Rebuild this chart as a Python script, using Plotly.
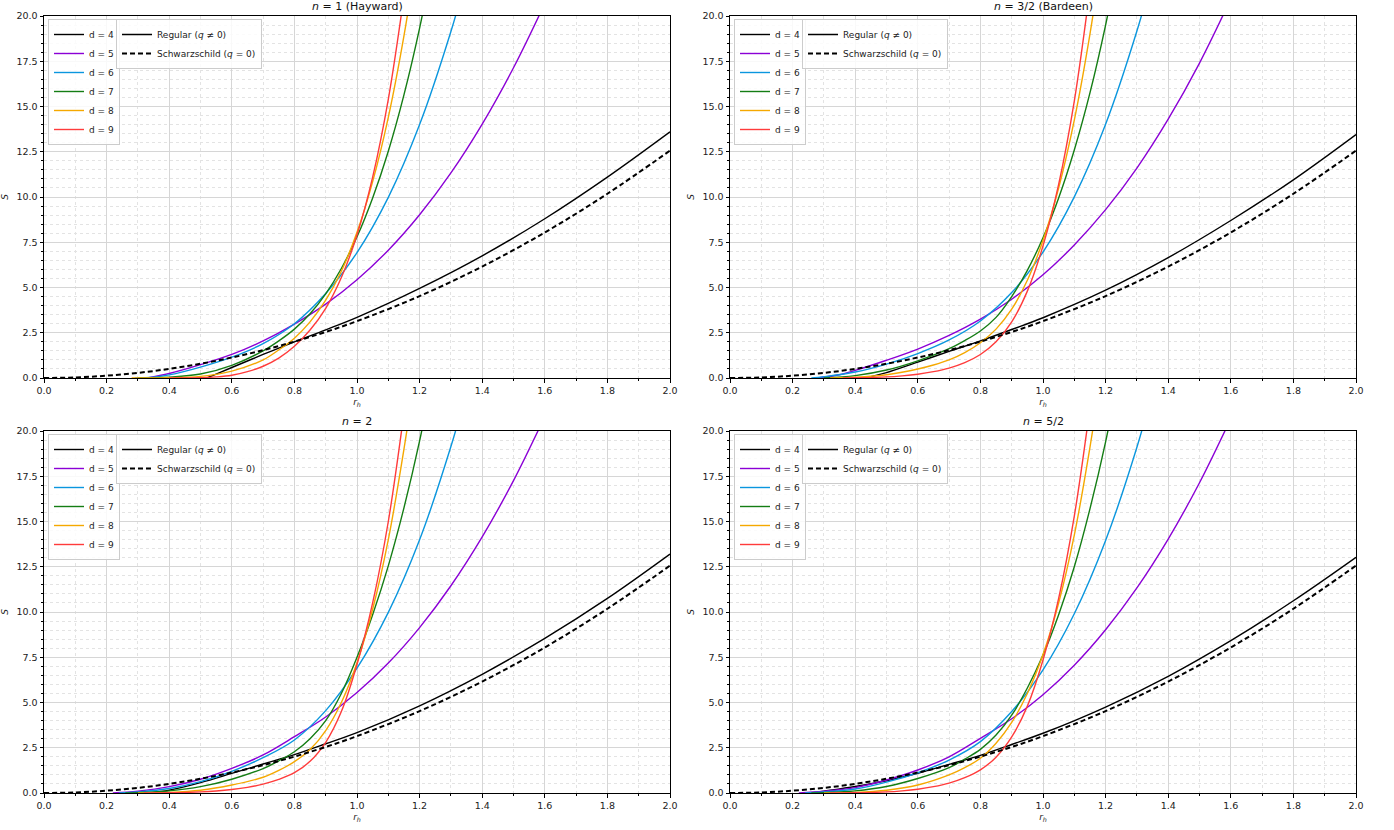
import plotly.graph_objects as go

# ---------------- data ----------------
D_LABELS = ["d = 4", "d = 5", "d = 6", "d = 7", "d = 8", "d = 9"]
PANEL_TITLES = ["<i>n</i> = 1 (Hayward)", "<i>n</i> = 3/2 (Bardeen)", "<i>n</i> = 2", "<i>n</i> = 5/2"]

# Schwarzschild d = 4 (dashed)
R_SCH = [0.0, 0.1, 0.2, 0.3, 0.4, 0.5, 0.6, 0.7, 0.8, 0.9, 1.0, 1.2, 1.4, 1.6, 1.8, 2.0]
S_SCH = [0.0, 0.031, 0.126, 0.283, 0.503, 0.785, 1.131, 1.539, 2.011, 2.545, 3.142,
         4.524, 6.158, 8.042, 10.179, 12.566]

# Panel 1: n = 1 (Hayward)
R1_D4 = [0.52, 0.55, 0.6, 0.7, 0.8, 0.9, 1.0, 1.2, 1.4, 1.6, 1.8, 2.0]
S1_D4 = [0.0, 0.22, 0.58, 1.3, 2.0, 2.66, 3.35, 4.95, 6.75, 8.8, 11.1, 13.6]
R1_D5 = [0.33, 0.4, 0.5, 0.6, 0.7, 0.8, 0.9, 1.0, 1.1, 1.2, 1.3, 1.4, 1.5, 1.6]
S1_D5 = [0.0, 0.25, 0.74, 1.3, 2.05, 2.98, 4.08, 5.43, 7.06, 9.02, 11.33, 14.03, 17.14, 20.69]
R1_D6 = [0.29, 0.35, 0.4, 0.5, 0.6, 0.7, 0.8, 0.9, 1.0, 1.1, 1.2, 1.3, 1.35]
S1_D6 = [0.0, 0.05, 0.17, 0.6, 1.15, 1.9, 3.0, 4.67, 6.93, 9.98, 14.0, 19.14, 22.2]
R1_D7 = [0.3, 0.4, 0.5, 0.6, 0.7, 0.75, 0.8, 0.85, 0.9, 0.95, 1.0, 1.05, 1.1, 1.15, 1.2, 1.25]
S1_D7 = [0.0, 0.05, 0.22, 0.7, 1.5, 2.05, 2.7, 3.55, 4.65, 6.05, 7.8, 9.95, 12.53, 15.64, 19.33, 23.7]
R1_D8 = [0.28, 0.4, 0.5, 0.6, 0.7, 0.75, 0.8, 0.85, 0.9, 0.95, 1.0, 1.05, 1.1, 1.15, 1.2]
S1_D8 = [0.0, 0.01, 0.09, 0.38, 1.0, 1.55, 2.2, 3.1, 4.3, 5.9, 8.05, 10.85, 14.4, 18.9, 24.4]
R1_D9 = [0.4, 0.5, 0.55, 0.6, 0.65, 0.7, 0.75, 0.8, 0.85, 0.9, 0.95, 1.0, 1.05, 1.1, 1.15]
S1_D9 = [0.0, 0.02, 0.06, 0.15, 0.35, 0.65, 1.1, 1.75, 2.65, 3.85, 5.55, 7.9, 11.1, 15.4, 21.1]

# Panel 2: n = 3/2 (Bardeen)
R2_D4 = [0.43, 0.46, 0.5, 0.6, 0.7, 0.8, 0.9, 1.0, 1.2, 1.4, 1.6, 1.8, 2.0]
S2_D4 = [0.0, 0.12, 0.3, 0.88, 1.47, 2.05, 2.68, 3.33, 4.85, 6.65, 8.7, 10.95, 13.45]
R2_D5 = [0.28, 0.35, 0.4, 0.5, 0.6, 0.7, 0.8, 0.9, 1.0, 1.1, 1.2, 1.3, 1.4, 1.5, 1.6]
S2_D5 = [0.0, 0.18, 0.42, 0.98, 1.6, 2.35, 3.25, 4.35, 5.7, 7.35, 9.3, 11.6, 14.3, 17.4, 20.95]
R2_D6 = [0.26, 0.3, 0.4, 0.5, 0.6, 0.7, 0.8, 0.9, 1.0, 1.1, 1.2, 1.3, 1.35]
S2_D6 = [0.0, 0.07, 0.33, 0.77, 1.35, 2.1, 3.15, 4.72, 6.96, 10.01, 14.02, 19.17, 22.24]
R2_D7 = [0.3, 0.4, 0.5, 0.6, 0.7, 0.75, 0.8, 0.85, 0.9, 0.95, 1.0, 1.05, 1.1, 1.15, 1.2, 1.25]
S2_D7 = [0.0, 0.13, 0.44, 0.95, 1.62, 2.07, 2.6, 3.35, 4.5, 5.95, 7.75, 9.95, 12.6, 15.75, 19.5, 23.9]
R2_D8 = [0.32, 0.4, 0.5, 0.6, 0.65, 0.7, 0.75, 0.8, 0.85, 0.9, 0.95, 1.0, 1.05, 1.1, 1.15, 1.2]
S2_D8 = [0.0, 0.04, 0.18, 0.5, 0.72, 1.0, 1.4, 1.95, 2.7, 3.8, 5.4, 7.6, 10.5, 14.25, 19.0, 24.8]
R2_D9 = [0.36, 0.4, 0.5, 0.55, 0.6, 0.65, 0.7, 0.75, 0.8, 0.85, 0.9, 0.95, 1.0, 1.05, 1.1, 1.15]
S2_D9 = [0.0, 0.01, 0.06, 0.12, 0.21, 0.35, 0.55, 0.85, 1.3, 2.0, 3.1, 4.8, 7.3, 10.7, 15.3, 21.5]

# Panel 3: n = 2
R3_D4 = [0.34, 0.4, 0.5, 0.6, 0.7, 0.8, 0.9, 1.0, 1.2, 1.4, 1.6, 1.8, 2.0]
S3_D4 = [0.0, 0.15, 0.57, 1.08, 1.6, 2.12, 2.72, 3.34, 4.82, 6.56, 8.54, 10.75, 13.2]
R3_D5 = [0.22, 0.3, 0.4, 0.5, 0.6, 0.7, 0.8, 0.9, 1.0, 1.1, 1.2, 1.3, 1.4, 1.5, 1.6]
S3_D5 = [0.0, 0.1, 0.35, 0.76, 1.36, 2.1, 3.11, 4.2, 5.55, 7.18, 9.14, 11.45, 14.15, 17.26, 20.8]
R3_D6 = [0.24, 0.3, 0.4, 0.5, 0.6, 0.7, 0.8, 0.9, 1.0, 1.1, 1.2, 1.3, 1.35]
S3_D6 = [0.0, 0.06, 0.25, 0.63, 1.2, 1.95, 2.93, 4.55, 6.9, 9.98, 13.99, 19.14, 22.2]
R3_D7 = [0.26, 0.3, 0.4, 0.5, 0.6, 0.7, 0.75, 0.8, 0.85, 0.9, 0.95, 1.0, 1.05, 1.1, 1.15, 1.2, 1.25]
S3_D7 = [0.0, 0.02, 0.12, 0.35, 0.76, 1.35, 1.78, 2.28, 3.0, 4.0, 5.5, 7.5, 9.85, 12.55, 15.75, 19.45, 23.8]
R3_D8 = [0.3, 0.4, 0.5, 0.6, 0.7, 0.75, 0.8, 0.85, 0.9, 0.95, 1.0, 1.05, 1.1, 1.15, 1.2]
S3_D8 = [0.0, 0.03, 0.15, 0.44, 0.87, 1.25, 1.73, 2.4, 3.45, 5.0, 7.2, 10.15, 14.0, 19.0, 24.8]
R3_D9 = [0.32, 0.4, 0.5, 0.55, 0.6, 0.65, 0.7, 0.75, 0.8, 0.85, 0.9, 0.95, 1.0, 1.05, 1.1, 1.15]
S3_D9 = [0.0, 0.01, 0.06, 0.11, 0.19, 0.31, 0.49, 0.75, 1.12, 1.75, 2.8, 4.5, 7.1, 10.5, 15.0, 21.0]

# Panel 4: n = 5/2
R4_D4 = [0.26, 0.3, 0.4, 0.5, 0.6, 0.7, 0.8, 0.9, 1.0, 1.2, 1.4, 1.6, 1.8, 2.0]
S4_D4 = [0.0, 0.1, 0.36, 0.68, 1.09, 1.58, 2.08, 2.68, 3.3, 4.75, 6.45, 8.42, 10.62, 13.02]
R4_D5 = [0.22, 0.3, 0.4, 0.5, 0.6, 0.7, 0.8, 0.9, 1.0, 1.1, 1.2, 1.3, 1.4, 1.5, 1.6]
S4_D5 = [0.0, 0.1, 0.3, 0.72, 1.27, 2.0, 3.02, 4.1, 5.43, 7.06, 9.02, 11.33, 14.03, 17.14, 20.69]
R4_D6 = [0.24, 0.3, 0.4, 0.5, 0.6, 0.7, 0.8, 0.9, 1.0, 1.1, 1.2, 1.3, 1.35]
S4_D6 = [0.0, 0.06, 0.22, 0.6, 1.12, 1.82, 2.84, 4.5, 6.8, 9.9, 13.95, 19.1, 22.2]
R4_D7 = [0.26, 0.3, 0.4, 0.5, 0.6, 0.7, 0.75, 0.8, 0.85, 0.9, 0.95, 1.0, 1.05, 1.1, 1.15, 1.2, 1.25]
S4_D7 = [0.0, 0.02, 0.12, 0.36, 0.8, 1.4, 1.87, 2.41, 3.2, 4.3, 5.8, 7.62, 9.85, 12.5, 15.7, 19.4, 23.8]
R4_D8 = [0.3, 0.4, 0.5, 0.6, 0.7, 0.75, 0.8, 0.85, 0.9, 0.95, 1.0, 1.05, 1.1, 1.15, 1.2]
S4_D8 = [0.0, 0.03, 0.15, 0.44, 1.0, 1.4, 1.92, 2.75, 3.9, 5.5, 7.65, 10.5, 14.25, 19.1, 24.8]
R4_D9 = [0.32, 0.4, 0.5, 0.55, 0.6, 0.65, 0.7, 0.75, 0.8, 0.85, 0.9, 0.95, 1.0, 1.05, 1.1, 1.15]
S4_D9 = [0.0, 0.01, 0.06, 0.12, 0.21, 0.35, 0.55, 0.85, 1.28, 1.98, 3.1, 4.8, 7.35, 10.75, 15.3, 21.3]

X_TICKS = [0.0, 0.2, 0.4, 0.6, 0.8, 1.0, 1.2, 1.4, 1.6, 1.8, 2.0]
Y_TICKS = [0.0, 2.5, 5.0, 7.5, 10.0, 12.5, 15.0, 17.5, 20.0]

PANELS = [
    [(R1_D4, S1_D4), (R1_D5, S1_D5), (R1_D6, S1_D6), (R1_D7, S1_D7), (R1_D8, S1_D8), (R1_D9, S1_D9)],
    [(R2_D4, S2_D4), (R2_D5, S2_D5), (R2_D6, S2_D6), (R2_D7, S2_D7), (R2_D8, S2_D8), (R2_D9, S2_D9)],
    [(R3_D4, S3_D4), (R3_D5, S3_D5), (R3_D6, S3_D6), (R3_D7, S3_D7), (R3_D8, S3_D8), (R3_D9, S3_D9)],
    [(R4_D4, S4_D4), (R4_D5, S4_D5), (R4_D6, S4_D6), (R4_D7, S4_D7), (R4_D8, S4_D8), (R4_D9, S4_D9)],
]

# ---------------- styling ----------------
COLORS = ["#000000", "#8B00D6", "#0A96DE", "#147D14", "#F5A800", "#FF3B3B"]
FONT = "DejaVu Sans"
W, H = 1394, 830
PAGE_OFF = 0  # body margin is removed by the post script below
# target pixel boxes on the page (left, right, top, bottom)
BOXES = [(44, 670, 16, 378), (730, 1356, 16, 378), (44, 670, 431, 793), (730, 1356, 431, 793)]
ML = 44 - PAGE_OFF
MT = 16 - PAGE_OFF
MR = W - (1356 - PAGE_OFF)
MB = H - (793 - PAGE_OFF)
PW, PH = W - ML - MR, H - MT - MB


def px_to_paper_x(px):
    return (px - PAGE_OFF - ML) / PW


def px_to_paper_y(py):
    return (H - MB - (py - PAGE_OFF)) / PH


fig = go.Figure()
layout_updates = {}
annotations = []

for i, box in enumerate(BOXES):
    L, R, T, B = box
    ax_suffix = "" if i == 0 else str(i + 1)
    xref = "x" + ax_suffix
    yref = "y" + ax_suffix
    legA = "legend" if i == 0 else "legend" + str(2 * i + 1)
    legB = "legend" + str(2 * i + 2)

    for k, (rr, ss) in enumerate(PANELS[i]):
        fig.add_trace(go.Scatter(
            x=rr, y=ss, mode="lines", name=D_LABELS[k],
            line=dict(color=COLORS[k], width=1.4, shape="spline", smoothing=1.0),
            xaxis=xref, yaxis=yref, legend=legA, showlegend=True, hoverinfo="skip"))

    fig.add_trace(go.Scatter(
        x=[None], y=[None], mode="lines", name="Regular (<i>q</i> ≠ 0)",
        line=dict(color="black", width=1.5),
        xaxis=xref, yaxis=yref, legend=legB, showlegend=True))
    fig.add_trace(go.Scatter(
        x=R_SCH, y=S_SCH, mode="lines", name="Schwarzschild (<i>q</i> = 0)",
        line=dict(color="black", width=2.0, dash="5px,3px", shape="spline"),
        xaxis=xref, yaxis=yref, legend=legB, showlegend=True, hoverinfo="skip"))

    xdom = [px_to_paper_x(L), px_to_paper_x(R)]
    ydom = [px_to_paper_y(B), px_to_paper_y(T)]
    common = dict(
        showline=True, mirror=True, linecolor="black", linewidth=1,
        ticks="outside", ticklen=3.5, tickwidth=1, tickcolor="black",
        showgrid=True, gridcolor="#d6d6d6", gridwidth=1.1, zeroline=False,
        tickfont=dict(family=FONT, size=9.5, color="#222"),
        tickformat=".1f", automargin=False,
    )
    layout_updates["xaxis" + ax_suffix] = dict(
        common, domain=xdom, range=[0, 2], tickmode="array", tickvals=X_TICKS,
        anchor=yref,
        minor=dict(dtick=0.1, tick0=0, ticks="outside", ticklen=2, tickcolor="black",
                   showgrid=True, gridcolor="#e3e3e3", griddash="dot", gridwidth=0.8),
        title=dict(text="<i>r<sub>h</sub></i>", font=dict(family=FONT, size=9, color="#222"),
                   standoff=3),
    )
    layout_updates["yaxis" + ax_suffix] = dict(
        common, domain=ydom, range=[0, 20], tickmode="array", tickvals=Y_TICKS,
        anchor=xref,
        minor=dict(dtick=0.5, tick0=0, ticks="outside", ticklen=2, tickcolor="black",
                   showgrid=True, gridcolor="#e3e3e3", griddash="dot", gridwidth=0.8),
        title=dict(text="<i>S</i>", font=dict(family=FONT, size=9, color="#222"),
                   standoff=6),
    )

    legend_common = dict(
        bgcolor="rgba(255,255,255,0.85)", bordercolor="#cccccc", borderwidth=1,
        font=dict(family=FONT, size=9, color="#222"), itemwidth=30,
        xanchor="left", yanchor="top", tracegroupgap=0, traceorder="normal",
        xref="paper", yref="paper",
    )
    layout_updates[legA] = dict(legend_common, x=px_to_paper_x(L + 4), y=px_to_paper_y(T + 3))
    layout_updates[legB] = dict(legend_common, x=px_to_paper_x(L + 72), y=px_to_paper_y(T + 3))

    annotations.append(dict(
        text=PANEL_TITLES[i], xref="paper", yref="paper",
        x=(xdom[0] + xdom[1]) / 2, y=ydom[1], xanchor="center", yanchor="bottom",
        yshift=1, showarrow=False, font=dict(family=FONT, size=11, color="#111")))

fig.update_layout(
    width=W, height=H,
    margin=dict(l=ML, r=MR, t=MT, b=MB, pad=0, autoexpand=False),
    paper_bgcolor="white", plot_bgcolor="white",
    font=dict(family=FONT),
    annotations=annotations,
    **layout_updates,
)

fig.write_html("out.html", config={"displayModeBar": False},
               post_script="document.body.style.margin='0px';")
